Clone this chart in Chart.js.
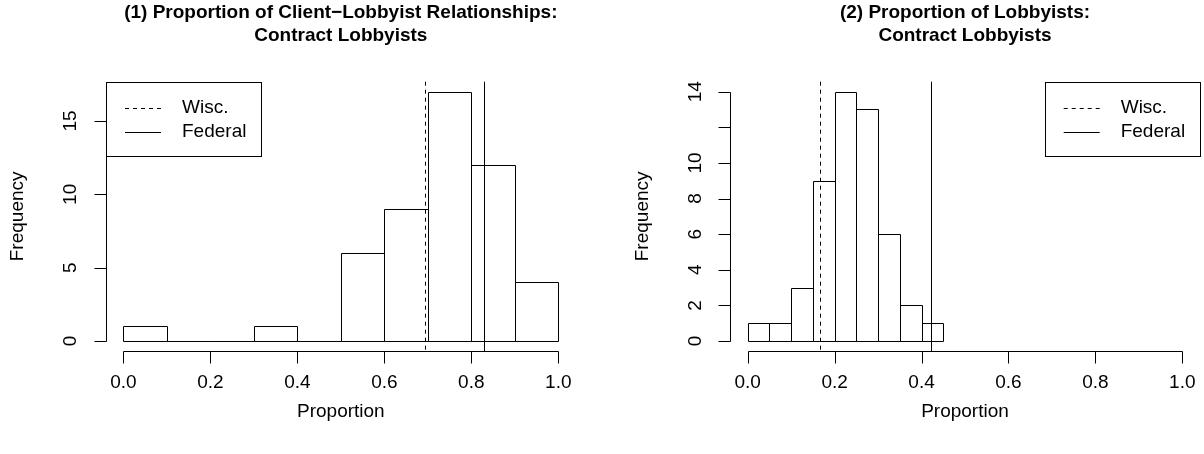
<!DOCTYPE html>
<html><head><meta charset="utf-8">
<script src="https://cdn.jsdelivr.net/npm/chart.js@4/dist/chart.umd.min.js"></script>
<style>
html,body{margin:0;padding:0;background:#fff;}
#wrap{position:relative;width:1204px;height:454px;overflow:hidden;}
canvas{position:absolute;left:0;top:0;}
</style>
</head><body>
<div id="wrap"><canvas id="c1" width="1204" height="454"></canvas><canvas id="c2" width="1204" height="454"></canvas></div>
<script>
// ---- data ----
const breaks1 = [0, 0.1, 0.2, 0.3, 0.4, 0.5, 0.6, 0.7, 0.8, 0.9, 1.0];
const counts1 = [1, 0, 0, 1, 0, 6, 9, 17, 12, 4];
const breaks2 = [0, 0.05, 0.1, 0.15, 0.2, 0.25, 0.3, 0.35, 0.4, 0.45];
const counts2 = [1, 1, 3, 9, 14, 13, 6, 2, 1];
const wisc1 = 0.694, federal1 = 0.829;
const wisc2 = 0.166, federal2 = 0.422;
const xTicks = [0, 0.2, 0.4, 0.6, 0.8, 1.0];
const xTickLabels = ['0.0', '0.2', '0.4', '0.6', '0.8', '1.0'];
const yTicks1 = [0, 5, 10, 15];
const yTickLabels1 = ['0', '5', '10', '15'];
const yTicks2 = [0, 2, 4, 6, 8, 10, 12, 14];
const yTickLabels2 = ['0', '2', '4', '6', '8', '10', '', '14'];
const title1 = ['(1) Proportion of Client\u2212Lobbyist Relationships:', 'Contract Lobbyists'];
const title2 = ['(2) Proportion of Lobbyists:', 'Contract Lobbyists'];
const legendLabels = ['Wisc.', 'Federal'];
const xTitle = 'Proportion', yTitle = 'Frequency';

const FONT = '"Liberation Sans", Arial, Helvetica, sans-serif';
const TXT = '19px ' + FONT;

const rPlot = {
  id: 'rPlot',
  afterDatasetsDraw(chart, args, o) {
    const ctx = chart.ctx, xs = chart.scales.x, ys = chart.scales.y, ca = chart.chartArea;
    const px = v => Math.round(v) + 0.5;
    ctx.save();
    ctx.strokeStyle = '#000'; ctx.fillStyle = '#000'; ctx.lineWidth = 1;
    // histogram rectangles
    const meta = chart.getDatasetMeta(0);
    meta.data.forEach(el => {
      const p = el.getProps(['x', 'y', 'base', 'width'], true);
      const l = px(p.x - p.width / 2), r = px(p.x + p.width / 2), t = px(p.y), b = px(p.base);
      ctx.beginPath();
      ctx.moveTo(l, b); ctx.lineTo(l, t); ctx.lineTo(r, t); ctx.lineTo(r, b); ctx.closePath();
      ctx.stroke();
    });
    // vertical reference lines
    o.vlines.forEach(v => {
      ctx.setLineDash(v.dash);
      const x = px(xs.getPixelForValue(v.x));
      ctx.beginPath(); ctx.moveTo(x, ca.top); ctx.lineTo(x, ca.bottom); ctx.stroke();
    });
    ctx.setLineDash([]);
    const tick = 12;
    // x axis
    const ay = px(ca.bottom);
    const x0 = px(xs.getPixelForValue(o.xTicks[0])), x1 = px(xs.getPixelForValue(o.xTicks[o.xTicks.length - 1]));
    ctx.beginPath(); ctx.moveTo(x0, ay); ctx.lineTo(x1, ay);
    o.xTicks.forEach(t => { const x = px(xs.getPixelForValue(t)); ctx.moveTo(x, ay); ctx.lineTo(x, ay + tick); });
    ctx.stroke();
    ctx.font = TXT; ctx.textAlign = 'center'; ctx.textBaseline = 'middle';
    o.xTicks.forEach((t, i) => ctx.fillText(o.xTickLabels[i], xs.getPixelForValue(t), 383));
    ctx.fillText(o.xTitle, (ca.left + ca.right) / 2, 412);
    // y axis
    const ax = px(ca.left);
    const y0 = px(ys.getPixelForValue(o.yTicks[0])), y1 = px(ys.getPixelForValue(o.yTicks[o.yTicks.length - 1]));
    ctx.beginPath(); ctx.moveTo(ax, y0); ctx.lineTo(ax, y1);
    o.yTicks.forEach(t => { const y = px(ys.getPixelForValue(t)); ctx.moveTo(ax, y); ctx.lineTo(ax - tick, y); });
    ctx.stroke();
    o.yTicks.forEach((t, i) => {
      ctx.save(); ctx.translate(ca.left - 35, ys.getPixelForValue(t)); ctx.rotate(-Math.PI / 2);
      ctx.fillText(o.yTickLabels[i], 0, 0); ctx.restore();
    });
    ctx.save(); ctx.translate(ca.left - 88, (ca.top + ca.bottom) / 2); ctx.rotate(-Math.PI / 2);
    ctx.fillText(o.yTitle, 0, 0); ctx.restore();
    // title
    ctx.font = 'bold 19px ' + FONT;
    const cx = (ca.left + ca.right) / 2;
    ctx.fillText(o.title[0], cx, 13);
    ctx.fillText(o.title[1], cx, 36);
    // legend
    const lw = 155, lh = 74;
    const lx = o.legendRight ? ca.right - lw : ca.left;
    const ly = ca.top;
    ctx.strokeRect(px(lx), px(ly), Math.round(lw), Math.round(lh));
    const rows = [ly + 26, ly + 50];
    ctx.font = TXT; ctx.textAlign = 'left';
    [[4, 4], []].forEach((d, i) => {
      ctx.setLineDash(d);
      ctx.beginPath(); ctx.moveTo(lx + 19, px(rows[i])); ctx.lineTo(lx + 55, px(rows[i])); ctx.stroke();
      ctx.setLineDash([]);
      ctx.fillText(o.legendLabels[i], lx + 76, rows[i]);
    });
    ctx.restore();
  }
};

function makeChart(id, breaks, counts, vlines, yTicks, yTickLabels, title, pad, legendRight) {
  const pts = counts.map((c, i) => ({ x: (breaks[i] + breaks[i + 1]) / 2, y: c }));
  const ymax = Math.max(...counts);
  return new Chart(document.getElementById(id), {
    type: 'bar',
    data: { datasets: [{ data: pts, backgroundColor: 'rgba(0,0,0,0)', borderColor: 'rgba(0,0,0,0)', borderWidth: 0, barPercentage: 1, categoryPercentage: 1 }] },
    plugins: [rPlot],
    options: {
      responsive: false, animation: false, events: [],
      layout: { padding: pad },
      scales: {
        x: { type: 'linear', display: false, offset: false, min: -0.04, max: 1.04, ticks: { stepSize: 0.2, includeBounds: false } },
        y: { type: 'linear', display: false, min: -0.04 * ymax, max: ymax * 1.04, ticks: { includeBounds: false } }
      },
      plugins: {
        legend: { display: false }, tooltip: { enabled: false }, title: { display: false },
        rPlot: { vlines, xTicks, xTickLabels, yTicks, yTickLabels, title, xTitle, yTitle, legendLabels, legendRight }
      }
    }
  });
}

makeChart('c1', breaks1, counts1, [{ x: wisc1, dash: [4, 4] }, { x: federal1, dash: [] }],
  yTicks1, yTickLabels1, title1, { left: 106, right: 628.3, top: 81.7, bottom: 103 }, false);
makeChart('c2', breaks2, counts2, [{ x: wisc2, dash: [4, 4] }, { x: federal2, dash: [] }],
  yTicks2, yTickLabels2, title2, { left: 730.3, right: 4.3, top: 81.7, bottom: 103 }, true);
</script>
</body></html>
